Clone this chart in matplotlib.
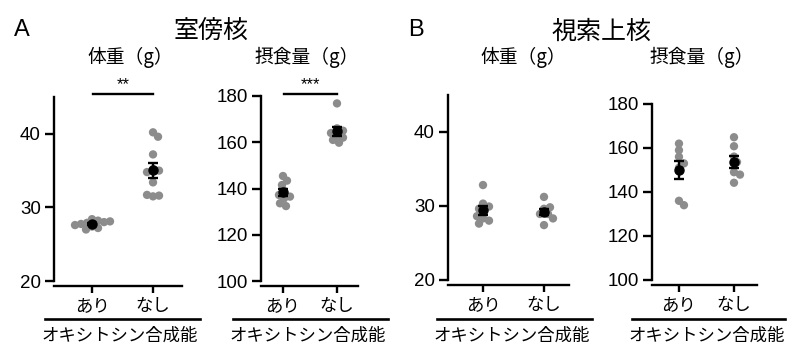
import numpy as np
import matplotlib
matplotlib.use("Agg")
import matplotlib.pyplot as plt
from matplotlib.lines import Line2D

plt.rcParams['font.family'] = ['Liberation Sans', 'Noto Sans CJK JP', 'DejaVu Sans']
JP = ['Noto Sans CJK JP', 'DejaVu Sans']

# ---------------- data ----------------
groups = ["あり", "なし"]
group_axis_label = "オキシトシン合成能"
section_titles = ["室傍核", "視索上核"]
section_letters = ["A", "B"]
panel_titles = ["体重（g）", "摂食量（g）", "体重（g）", "摂食量（g）"]

pvn_weight_ari = [28.4, 28.2, 27.9, 27.75, 27.4, 27.2, 27.0, 28.0, 27.6, 28.1]
pvn_weight_nashi = [40.2, 39.6, 37.2, 35.2, 35.0, 34.8, 33.4, 31.5, 31.6, 31.7]
pvn_food_ari = [145.4, 143.4, 141.5, 139.0, 137.2, 135.7, 133.6, 132.4, 136.5]
pvn_food_nashi = [176.8, 166.0, 165.0, 163.1, 162.0, 161.0, 159.8, 164.0]
son_weight_ari = [32.8, 30.3, 29.9, 29.6, 28.3, 28.0, 27.6, 28.6]
son_weight_nashi = [31.2, 29.6, 29.8, 28.9, 28.9, 27.4, 28.3]
son_food_ari = [162.0, 156.0, 151.0, 153.0, 136.0, 134.0, 159.0]
son_food_nashi = [164.9, 160.8, 156.1, 153.6, 149.0, 147.9, 144.2]

weight_ticks = [20, 30, 40]
food_ticks = [100, 120, 140, 160, 180]
significance = ["**", "***", None, None]

panel_data = [
    (pvn_weight_ari, pvn_weight_nashi),
    (pvn_food_ari, pvn_food_nashi),
    (son_weight_ari, son_weight_nashi),
    (son_food_ari, son_food_nashi),
]

# ---------------- layout (pixels) ----------------
W, H = 800, 356
fig = plt.figure(figsize=(8, 3.56), dpi=100)

# left, right, bottom, top, ylim, xlim, yticks
layout = [
    (54, 182, 281, 97, (20, 45), (-0.623, 1.475), weight_ticks),
    (261, 358, 281, 96, (100, 180), (-0.407, 1.389), food_ticks),
    (448, 569, 280, 94.5, (20, 45), (-0.574, 1.41), weight_ticks),
    (652, 757, 280, 104, (100, 180), (-0.49, 1.418), food_ticks),
]
title_x = [130, 307, 523, 702]
caption_line = [(45, 200), (233, 388), (437, 592), (632, 785)]
caption_x = [120, 308, 512, 707]

GREY = '#8c8c8c'
LW = 1.7


def swarm_offsets(vals, px_per_y, diam):
    placed = []
    offs = []
    for v in vals:
        y = v * px_per_y
        for k in range(0, 60):
            cands = [0] if k == 0 else [k, -k]
            ok = None
            for c in cands:
                if all((c - ox) ** 2 + (y - oy) ** 2 >= diam ** 2 for ox, oy in placed):
                    ok = c
                    break
            if ok is not None:
                placed.append((ok, y))
                offs.append(ok)
                break
    return np.array(offs, dtype=float)


for i, (left, right, bot, top, ylim, xlim, yt) in enumerate(layout):
    ax = fig.add_axes([left / W, 1 - bot / H, (right - left) / W, (bot - top) / H])
    ax.set_ylim(*ylim)
    ax.set_xlim(*xlim)
    px_per_y = (bot - top) / (ylim[1] - ylim[0])
    px_per_x = (right - left) / (xlim[1] - xlim[0])
    for g, vals in enumerate(panel_data[i]):
        vals = np.array(vals)
        offs = swarm_offsets(vals, px_per_y, 6.0) / px_per_x
        ax.scatter(g + offs, vals, s=36, color=GREY, edgecolors='none', zorder=2, clip_on=False)
        m = vals.mean()
        sem = vals.std(ddof=1) / np.sqrt(len(vals))
        ax.errorbar([g], [m], yerr=[sem], fmt='o', color='black', markersize=6.5,
                    capsize=3.5, elinewidth=1.7, capthick=1.7, zorder=3)
    for s in ['top', 'right']:
        ax.spines[s].set_visible(False)
    ax.spines['left'].set_linewidth(LW)
    ax.spines['bottom'].set_linewidth(LW)
    ax.spines['bottom'].set_position(('outward', 3.6))
    ax.spines['left'].set_bounds(ylim[0], ylim[1])
    ax.set_yticks(yt)
    ax.set_yticklabels([str(t) for t in yt], fontsize=13.5, family=['Liberation Sans'])
    ax.set_xticks([0, 1])
    ax.set_xticklabels(groups, fontsize=12.5, family=JP)
    ax.tick_params(axis='y', length=6.5, width=LW, pad=3)
    ax.tick_params(axis='x', length=5, width=LW, pad=3)
    ax.patch.set_visible(False)

    if significance[i]:
        ysig = ylim[1] + (0.4 if ylim[0] == 20 else 0.8)
        ax.plot([0.02, 1.0], [ysig, ysig], color='black', lw=1.7, clip_on=False)
        ax.text(0.51, ysig + (0.3 if ylim[0] == 20 else 1.0), significance[i], ha='center',
                va='bottom', fontsize=12, family=['Liberation Sans'])

    fig.text(title_x[i] / W, 1 - 57 / H, panel_titles[i], ha='center', va='center',
             fontsize=13.5, family=JP)
    x0, x1 = caption_line[i]
    fig.add_artist(Line2D([x0 / W, x1 / W], [1 - 319 / H, 1 - 319 / H], color='black', lw=1.9))
    fig.text(caption_x[i] / W, 1 - 336 / H, group_axis_label, ha='center', va='center',
             fontsize=12.5, family=JP)

fig.text(22 / W, 1 - 30 / H, section_letters[0], ha='center', va='center', fontsize=17,
         family=['Liberation Sans'])
fig.text(416 / W, 1 - 30 / H, section_letters[1], ha='center', va='center', fontsize=17,
         family=['Liberation Sans'])
fig.text(211 / W, 1 - 32 / H, section_titles[0], ha='center', va='center', fontsize=18, family=JP)
fig.text(602 / W, 1 - 32 / H, section_titles[1], ha='center', va='center', fontsize=18, family=JP)

fig.savefig('out.png', dpi=100)
